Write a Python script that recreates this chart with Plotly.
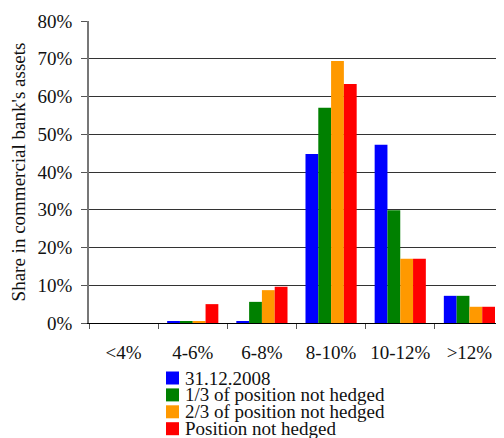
import plotly.graph_objects as go

categories = ["<4%", "4-6%", "6-8%", "8-10%", "10-12%", ">12%"]
series_names = ["31.12.2008", "1/3 of position not hedged",
                "2/3 of position not hedged", "Position not hedged"]
s_2008 = [0.0, 0.3, 0.3, 44.8, 47.2, 7.2]
s_third = [0.0, 0.3, 5.6, 57.0, 29.9, 7.2]
s_two_thirds = [0.0, 0.3, 8.7, 69.4, 17.0, 4.3]
s_full = [0.0, 5.0, 9.6, 63.3, 17.0, 4.3]
colors = ["#0000FF", "#008000", "#FF9900", "#FF0000"]
y_ticks = [0, 10, 20, 30, 40, 50, 60, 70, 80]

W, H = 496, 430
ML, MR, MT, MB = 81, 0, 13, 115
PW, PH = W - ML - MR, H - MT - MB

fig = go.Figure()
for name, vals, c in zip(series_names, [s_2008, s_third, s_two_thirds, s_full], colors):
    fig.add_trace(go.Bar(x=categories, y=vals, name=name,
                         marker=dict(color=c, line=dict(width=0))))

font = "Liberation Serif"

# legend drawn as compact rows (tight line spacing like the original)
key_x0, key_size, text_x = 158, 13, 175
row_y0, row_step = 370, 16.9
shapes, annos = [], []
for i, (name, c) in enumerate(zip(series_names, colors)):
    cy = row_y0 + i * row_step
    shapes.append(dict(type="rect", xref="paper", yref="paper",
                       x0=(key_x0 - ML) / PW, x1=(key_x0 + key_size - ML) / PW,
                       y0=(MT + PH - (cy - key_size / 2)) / PH,
                       y1=(MT + PH - (cy + key_size / 2)) / PH,
                       fillcolor=c, line=dict(width=0)))
    annos.append(dict(text=name, xref="paper", yref="paper",
                      x=(text_x - ML) / PW, y=(MT + PH - cy) / PH,
                      xanchor="left", yanchor="middle", showarrow=False,
                      font=dict(family=font, size=19, color="#111")))

fig.update_layout(
    width=W, height=H,
    margin=dict(l=ML, r=MR, t=MT, b=MB),
    paper_bgcolor="white", plot_bgcolor="white",
    barmode="group", bargap=0.26, bargroupgap=0,
    font=dict(family=font, size=19, color="#111"),
    showlegend=False,
    shapes=shapes, annotations=annos,
    xaxis=dict(type="category", tickson="boundaries", ticks="outside", ticklen=5,
               tickcolor="#555", showline=True, linecolor="#000", linewidth=1,
               showgrid=False, ticklabelstandoff=12, tickangle=0,
               tickfont=dict(family=font, size=19),
               range=[-0.5, 5.5], automargin=False),
    yaxis=dict(range=[0, 80], tickvals=y_ticks, ticktext=[f"{v}%" for v in y_ticks],
               ticks="outside", ticklen=6, tickcolor="#555",
               showline=True, linecolor="#777", linewidth=1.5,
               showgrid=True, gridcolor="#333", gridwidth=1, zeroline=False,
               ticklabelstandoff=5,
               tickfont=dict(family=font, size=19), automargin=False,
               title=dict(text="Share in commercial bank's assets",
                          font=dict(family=font, size=19), standoff=10)),
)
fig.write_html("out.html")
